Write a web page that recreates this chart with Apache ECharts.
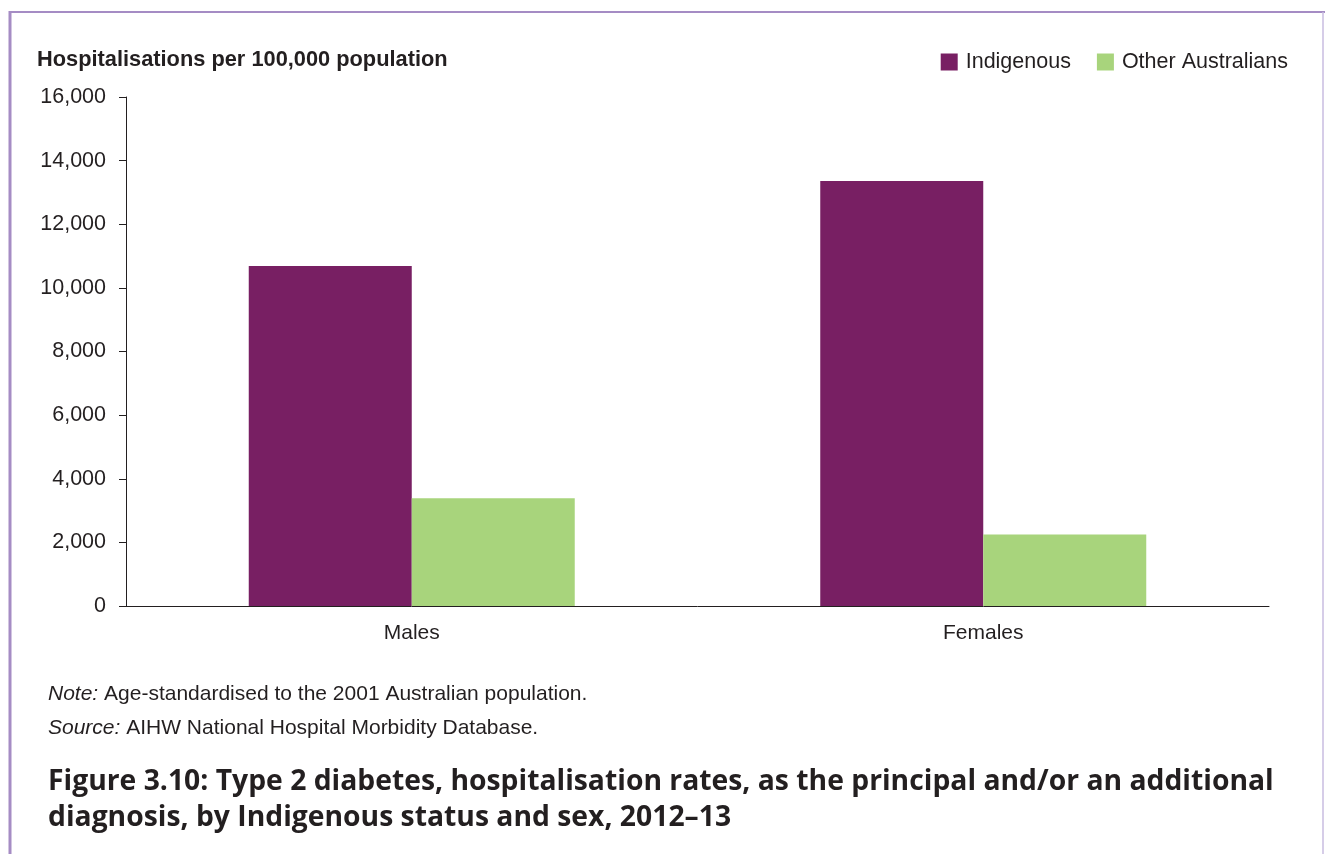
<!DOCTYPE html>
<html>
<head>
<meta charset="utf-8">
<script src="https://cdn.jsdelivr.net/npm/echarts@6/dist/echarts.min.js"></script>
<style>
  html, body { margin: 0; padding: 0; background: #fff; }
  #chart { width: 1325px; height: 854px; }
</style>
</head>
<body>
<div id="chart"></div>
<script>
var categories = ['Males', 'Females'];
var indigenous = [10690, 13360];
var otherAus = [3390, 2250];
var seriesNames = ['Indigenous', 'Other Australians'];

var myChart = echarts.init(document.getElementById('chart'));
var option = {
    backgroundColor: '#fff',
    animation: false,
    textStyle: { fontFamily: 'Liberation Sans, Arial, sans-serif' },
    legend: {
        data: seriesNames,
        right: 37,
        top: 51,
        padding: 0,
        itemWidth: 17,
        itemHeight: 17,
        itemGap: 26,
        icon: 'rect',
        textStyle: { fontSize: 21.5, color: '#231f20', padding: [0, 0, 0, 3] }
    },
    grid: { left: 126, right: 56, top: 97, bottom: 248 },
    xAxis: {
        type: 'category',
        data: categories,
        axisLine: { lineStyle: { color: '#231f20', width: 1 } },
        axisTick: { show: false },
        axisLabel: { fontSize: 21, color: '#231f20', margin: 17 }
    },
    yAxis: {
        type: 'value',
        min: 0,
        max: 16000,
        interval: 2000,
        axisLine: { show: true, lineStyle: { color: '#231f20', width: 1 } },
        axisTick: { show: true, length: 7, lineStyle: { color: '#231f20' } },
        splitLine: { show: false },
        axisLabel: {
            fontSize: 21.5, color: '#231f20', margin: 20,
            formatter: function (v) { return v.toLocaleString('en-US'); }
        }
    },
    series: [
        {
            name: seriesNames[0],
            type: 'bar',
            data: indigenous,
            barWidth: 163,
            barGap: '0%',
            itemStyle: { color: '#781f63' }
        },
        {
            name: seriesNames[1],
            type: 'bar',
            data: otherAus,
            barWidth: 163,
            barGap: '0%',
            itemStyle: { color: '#a8d47c' }
        }
    ],
    graphic: [
        // frame
        { type: 'line', shape: { x1: 10, y1: 12, x2: 1325, y2: 12 }, style: { stroke: '#a58cc4', lineWidth: 2 } },
        { type: 'line', shape: { x1: 10, y1: 11, x2: 10, y2: 854 }, style: { stroke: '#a58cc4', lineWidth: 3 } },
        { type: 'line', shape: { x1: 1323, y1: 12, x2: 1323, y2: 854 }, style: { stroke: '#c9bde0', lineWidth: 1.5 } },
        {
            type: 'text', left: 37, top: 49,
            style: { text: 'Hospitalisations per 100,000 population', fontSize: 21.8, fontWeight: 'bold', fill: '#231f20', fontFamily: 'Liberation Sans, Arial, sans-serif' }
        },
        {
            type: 'text', left: 48, top: 684,
            style: {
                text: '{i|Note:} Age-standardised to the 2001 Australian population.',
                rich: { i: { fontStyle: 'italic', fontSize: 21, fill: '#231f20' } },
                fontSize: 21, fill: '#231f20', fontFamily: 'Liberation Sans, Arial, sans-serif'
            }
        },
        {
            type: 'text', left: 48, top: 718,
            style: {
                text: '{i|Source:} AIHW National Hospital Morbidity Database.',
                rich: { i: { fontStyle: 'italic', fontSize: 21, fill: '#231f20' } },
                fontSize: 21, fill: '#231f20', fontFamily: 'Liberation Sans, Arial, sans-serif'
            }
        },
        {
            type: 'text', left: 48, top: 764,
            style: {
                text: 'Figure 3.10: Type 2 diabetes, hospitalisation rates, as the principal and/or an additional\ndiagnosis, by Indigenous status and sex, 2012\u201313',
                fontSize: 28.3, fontWeight: 'bold', lineHeight: 36, fill: '#231f20',
                fontFamily: 'Open Sans, DejaVu Sans, sans-serif'
            }
        }
    ]
};
myChart.setOption(option);
</script>
</body>
</html>
